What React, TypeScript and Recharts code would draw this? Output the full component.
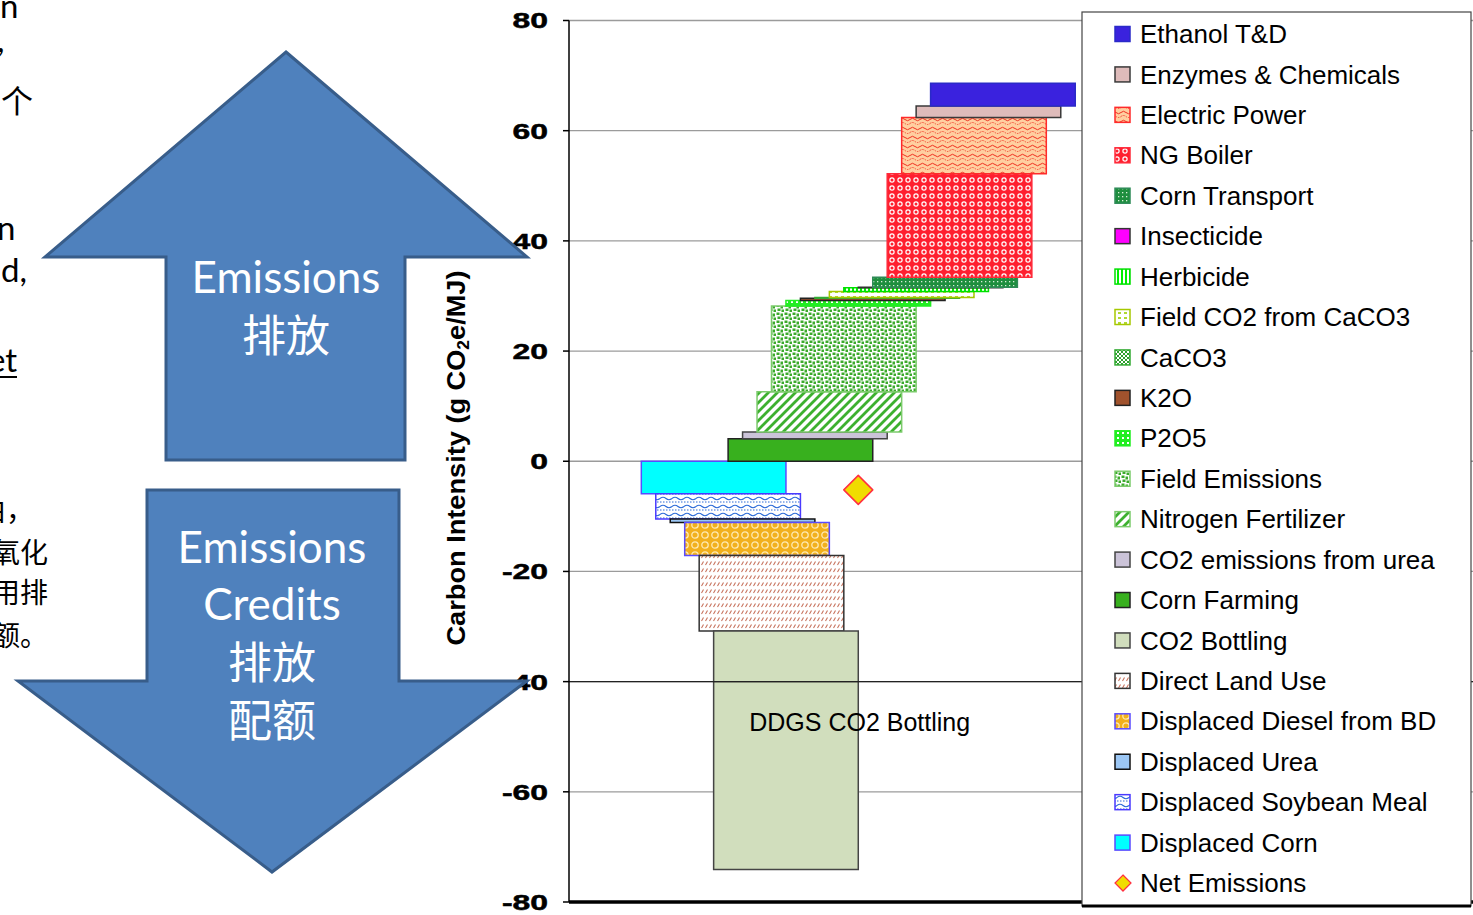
import React from 'react';
import {
  ComposedChart,
  XAxis,
  YAxis,
  CartesianGrid,
  ReferenceArea,
  ReferenceLine,
  ReferenceDot,
  Scatter,
} from 'recharts';

// Life-cycle components, in stacking order: credits first (stacked downward from 0),
// then emission sources (stacked upward from 0).
const components = [
  'Displaced Corn',
  'Displaced Soybean Meal',
  'Displaced Urea',
  'Displaced Diesel from BD',
  'Direct Land Use',
  'CO2 Bottling',
  'Corn Farming',
  'CO2 emissions from urea',
  'Nitrogen Fertilizer',
  'Field Emissions',
  'P2O5',
  'K2O',
  'CaCO3',
  'Field CO2 from CaCO3',
  'Herbicide',
  'Insecticide',
  'Corn Transport',
  'NG Boiler',
  'Electric Power',
  'Enzymes & Chemicals',
  'Ethanol T&D',
];

// Carbon intensity contributed by each component (g CO2e/MJ)
const contributions = [
  -5.9, -4.6, -0.6, -6.0, -13.7, -43.3,
  4.1, 1.2, 7.3, 15.6, 1.0, 0.4, 0.1, 1.1, 0.7, 0.1, 1.8, 18.8, 10.2, 2.1, 4.1,
];

const netEmissions = -5.2;
const netPoint = [{ x: 15, y: netEmissions }];

const annotationText = 'DDGS CO2 Bottling';
const annotationAt = { x: 15.1, y: -47.4 };

const yTicks = [-80, -60, -40, -20, 0, 20, 40, 60, 80];
const yTitle = 'Carbon Intensity (g CO';
const X_DOMAIN: [number, number] = [-5, 57.5];

// the darker rule that runs over the bars
const ruleLevel = -40;

const BAR_SPAN = 10;

type Look = { fill: string; stroke: string };
const looks: Record<string, Look> = {
  'Ethanol T&D': { fill: '#3A22DE', stroke: '#2A2AC8' },
  'Enzymes & Chemicals': { fill: '#DEBBBA', stroke: '#3A3A3A' },
  'Electric Power': { fill: 'url(#pElec)', stroke: '#FF2A2A' },
  'NG Boiler': { fill: 'url(#pNG)', stroke: '#FF2A3A' },
  'Corn Transport': { fill: 'url(#pTransport)', stroke: '#2E8B57' },
  Insecticide: { fill: '#FF00FF', stroke: '#333333' },
  Herbicide: { fill: 'url(#pHerb)', stroke: '#00E000' },
  'Field CO2 from CaCO3': { fill: 'url(#pFieldCaCO3)', stroke: '#A6C800' },
  CaCO3: { fill: 'url(#pCaCO3)', stroke: '#33AA33' },
  K2O: { fill: '#A0522D', stroke: '#222222' },
  P2O5: { fill: 'url(#pP2O5)', stroke: '#22EE22' },
  'Field Emissions': { fill: 'url(#pFieldEm)', stroke: '#7CCB6C' },
  'Nitrogen Fertilizer': { fill: 'url(#pNfert)', stroke: '#7CCB6C' },
  'CO2 emissions from urea': { fill: '#CBC3D8', stroke: '#444444' },
  'Corn Farming': { fill: '#38B01E', stroke: '#222222' },
  'CO2 Bottling': { fill: '#D1DEBD', stroke: '#444444' },
  'Direct Land Use': { fill: 'url(#pDLU)', stroke: '#333333' },
  'Displaced Diesel from BD': { fill: 'url(#pDiesel)', stroke: '#5A4BFF' },
  'Displaced Urea': { fill: '#9CC7F5', stroke: '#111111' },
  'Displaced Soybean Meal': { fill: 'url(#pSoy)', stroke: '#4A3AFF' },
  'Displaced Corn': { fill: '#00FFFF', stroke: '#5A4BFF' },
};

// waterfall extents
let below = 0;
let above = 0;
const bars = components.map((name, i) => {
  const v = contributions[i];
  let y1: number;
  let y2: number;
  if (v < 0) {
    y1 = below;
    below += v;
    y2 = below;
  } else {
    y1 = above;
    above += v;
    y2 = above;
  }
  return { name, x1: i, x2: i + BAR_SPAN, y1, y2 };
});

const legendItems = [...components].reverse();

const FONT = '"Liberation Sans", Arial, sans-serif';

function Patterns() {
  return (
    <svg width={0} height={0} style={{ position: 'absolute' }}>
      <defs>
        <pattern id="pElec" width="10" height="9" patternUnits="userSpaceOnUse">
          <rect width="10" height="9" fill="#FFCFA0" />
          <path d="M0 2.5 Q2.5 0 5 2.5 T10 2.5" stroke="#F03020" fill="none" strokeWidth="1" />
          <path d="M0 6.5 Q2.5 4.5 5 6.5 T10 6.5" stroke="#F03020" fill="none" strokeWidth="0.8" strokeDasharray="1.5 1" />
        </pattern>
        <pattern id="pNG" width="8" height="8" patternUnits="userSpaceOnUse">
          <rect width="8" height="8" fill="#FF1F2F" />
          <circle cx="4" cy="4" r="2.7" fill="#FFFFFF" />
          <circle cx="4" cy="4" r="1.5" fill="#FF1F2F" />
        </pattern>
        <pattern id="pTransport" width="4" height="4" patternUnits="userSpaceOnUse">
          <rect width="4" height="4" fill="#1E8E3E" />
          <rect x="1" y="1" width="1.3" height="1.3" fill="#D8F0D8" />
        </pattern>
        <pattern id="pHerb" width="4" height="4" patternUnits="userSpaceOnUse">
          <rect width="4" height="4" fill="#FFFFFF" />
          <rect width="2" height="4" fill="#00F000" />
        </pattern>
        <pattern id="pFieldCaCO3" width="6" height="5" patternUnits="userSpaceOnUse">
          <rect width="6" height="5" fill="#FFFFFF" />
          <rect x="1" y="1" width="3" height="2" fill="#B0D830" />
        </pattern>
        <pattern id="pCaCO3" width="4" height="4" patternUnits="userSpaceOnUse">
          <rect width="4" height="4" fill="#FFFFFF" />
          <rect width="2" height="2" fill="#2EA02E" />
          <rect x="2" y="2" width="2" height="2" fill="#2EA02E" />
        </pattern>
        <pattern id="pP2O5" width="5" height="5" patternUnits="userSpaceOnUse">
          <rect width="5" height="5" fill="#22EE22" />
          <rect x="1" y="1" width="2" height="2" fill="#FFFFFF" />
        </pattern>
        <pattern id="pFieldEm" width="8" height="8" patternUnits="userSpaceOnUse">
          <rect width="8" height="8" fill="#FFFFFF" />
          <rect x="0.5" y="0.5" width="3" height="2.5" fill="#3BAA2B" />
          <rect x="4.5" y="1.5" width="2.5" height="3" fill="#3BAA2B" />
          <rect x="1.5" y="4.5" width="3" height="2.5" fill="#3BAA2B" />
          <rect x="5.5" y="5.5" width="2.5" height="2.5" fill="#3BAA2B" />
        </pattern>
        <pattern id="pNfert" width="9" height="9" patternUnits="userSpaceOnUse">
          <rect width="9" height="9" fill="#FFFFFF" />
          <path d="M-2.25 2.25 L2.25 -2.25 M0 9 L9 0 M6.75 11.25 L11.25 6.75" stroke="#3DB02F" strokeWidth="2.8" />
        </pattern>
        <pattern id="pDLU" width="8" height="7" patternUnits="userSpaceOnUse">
          <rect width="8" height="7" fill="#FFFFFF" />
          <path d="M1.5 5 L3.5 1.5 M5.5 5 L7.5 1.5" stroke="#C8735E" strokeWidth="1.1" />
        </pattern>
        <pattern id="pDiesel" width="10" height="10" patternUnits="userSpaceOnUse">
          <rect width="10" height="10" fill="#F2B01C" />
          <circle cx="5" cy="5" r="3.2" fill="none" stroke="#FFE9B0" strokeWidth="1.3" />
        </pattern>
        <pattern id="pSoy" width="12" height="8" patternUnits="userSpaceOnUse">
          <rect width="12" height="8" fill="#FFFFFF" />
          <path d="M0 2.5 Q3 0 6 2.5 T12 2.5" stroke="#2A6AD8" fill="none" strokeWidth="1.2" />
          <path d="M0 6 L12 6" stroke="#2A6AD8" strokeWidth="1" strokeDasharray="1.5 1.5" />
        </pattern>
      </defs>
    </svg>
  );
}

function renderYTick(props: any) {
  const { x, y, payload } = props;
  return (
    <g transform={`translate(${x},${y})`}>
      <text
        transform="scale(1.45,1)"
        textAnchor="end"
        dy="0.36em"
        fontFamily={FONT}
        fontWeight="bold"
        fontSize={22}
        fill="#000"
        stroke="#000"
        strokeWidth={0.5}
      >
        {payload.value}
      </text>
    </g>
  );
}

function renderDiamond(props: any) {
  const { cx, cy } = props;
  const h = 14.5;
  return (
    <polygon
      points={`${cx},${cy - h} ${cx + h},${cy} ${cx},${cy + h} ${cx - h},${cy}`}
      fill="#F0DC00"
      stroke="#FF3040"
      strokeWidth={1.5}
      strokeLinejoin="round"
    />
  );
}

// For a bar that spans the -40 level, the dark rule is drawn over it; its height
// is interpolated between the bar's scaled top and bottom edges (the label viewBox).
function makeRuleLabel(v1: number, v2: number) {
  const hi = Math.max(v1, v2);
  const lo = Math.min(v1, v2);
  if (!(hi > ruleLevel && lo < ruleLevel)) return undefined;
  return function RuleAcrossBar(props: any) {
    const vb = props.viewBox || {};
    const { x, y, width, height } = vb;
    if (![x, y, width, height].every((n) => Number.isFinite(n))) return null;
    const top = Math.min(y, y + height);
    const h = Math.abs(height);
    const ruleY = top + ((hi - ruleLevel) / (hi - lo)) * h;
    return <line x1={x} x2={x + width} y1={ruleY} y2={ruleY} stroke="#222" strokeWidth={1.3} />;
  };
}

function Arrows() {
  const white = '#FFFFFF';
  const latin = 'Lato, "Open Sans", sans-serif';
  const cjk = '"Noto Sans CJK SC", sans-serif';
  return (
    <svg
      width={1473}
      height={915}
      style={{ position: 'absolute', left: 0, top: 0, pointerEvents: 'none' }}
    >
      <polygon
        points="286,52 527,257 405,257 405,460 166,460 166,257 45,257"
        fill="#4F81BD"
        stroke="#385D8A"
        strokeWidth={3}
      />
      <text x={286} y={293} textAnchor="middle" fill={white} fontFamily={latin} fontSize={44}>
        Emissions
      </text>
      <text x={286} y={352} textAnchor="middle" fill={white} fontFamily={cjk} fontSize={44}>
        排放
      </text>

      <polygon
        points="147,490 399,490 399,681 527,681 272,872 18,681 147,681"
        fill="#4F81BD"
        stroke="#385D8A"
        strokeWidth={3}
      />
      <text x={272} y={563} textAnchor="middle" fill={white} fontFamily={latin} fontSize={44}>
        Emissions
      </text>
      <text x={272} y={620} textAnchor="middle" fill={white} fontFamily={latin} fontSize={44}>
        Credits
      </text>
      <text x={272} y={679} textAnchor="middle" fill={white} fontFamily={cjk} fontSize={44}>
        排放
      </text>
      <text x={272} y={737} textAnchor="middle" fill={white} fontFamily={cjk} fontSize={44}>
        配额
      </text>

      {/* slide body text running off the left edge */}
      <g fill="#000" fontFamily={latin} fontSize={33}>
        <text x={0} y={18}>n</text>
        <text x={-3} y={52}>,</text>
        <text x={-3} y={240}>n</text>
        <text x={1} y={282}>d,</text>
        <text x={-12} y={372}>et</text>
      </g>
      <line x1={0} y1={377} x2={17} y2={377} stroke="#000" strokeWidth={2} />
      <g fill="#000" fontFamily={cjk}>
        <text x={1} y={113} fontSize={32}>个</text>
        <text x={-22} y={521} fontSize={28}>由，</text>
        <text x={-8} y={563} fontSize={28}>氧化</text>
        <text x={-8} y={603} fontSize={28}>用排</text>
        <text x={-8} y={646} fontSize={28}>额。</text>
      </g>

      {/* value axis title */}
      <text
        transform="translate(465,458) rotate(-90)"
        textAnchor="middle"
        fontFamily={FONT}
        fontWeight="bold"
        fontSize={25}
        fill="#000"
        textLength={375}
        lengthAdjust="spacingAndGlyphs"
      >
        {yTitle}
        <tspan fontSize={16} dy={4}>2</tspan>
        <tspan dy={-4}>e/MJ)</tspan>
      </text>
    </svg>
  );
}

function LegendBox() {
  const rowTop = 23;
  const rowGap = 40.43;
  return (
    <svg
      width={391}
      height={898}
      style={{ position: 'absolute', left: 1081, top: 11 }}
    >
      <rect x={1} y={1} width={389} height={894} fill="#FFFFFF" stroke="#444" strokeWidth={1.2} />
      <line x1={1} y1={895} x2={390} y2={895} stroke="#000" strokeWidth={3} />
      {legendItems.map((name, i) => {
        const cy = rowTop + i * rowGap;
        const look = looks[name];
        return (
          <g key={name}>
            <rect
              x={34}
              y={cy - 7.5}
              width={15}
              height={15}
              fill={look.fill}
              stroke={look.stroke}
              strokeWidth={1.5}
            />
            <text x={59} y={cy} dy="0.35em" fontFamily={FONT} fontSize={26} fill="#000">
              {name}
            </text>
          </g>
        );
      })}
      {(() => {
        const cy = rowTop + legendItems.length * rowGap;
        const h = 8;
        return (
          <g>
            <polygon
              points={`${42},${cy - h} ${42 + h},${cy} ${42},${cy + h} ${42 - h},${cy}`}
              fill="#F0DC00"
              stroke="#FF3040"
              strokeWidth={1.2}
            />
            <text x={59} y={cy} dy="0.35em" fontFamily={FONT} fontSize={26} fill="#000">
              Net Emissions
            </text>
          </g>
        );
      })()}
    </svg>
  );
}

export default function App() {
  return (
    <div
      style={{
        position: 'absolute',
        left: 0,
        top: 0,
        width: 1473,
        height: 915,
        background: '#FFFFFF',
        overflow: 'hidden',
        fontFamily: FONT,
      }}
    >
      <Patterns />
      <div style={{ position: 'absolute', left: 0, top: 0 }}>
        <ComposedChart
          width={1473}
          height={915}
          margin={{ top: 20.5, right: 0, bottom: 13, left: 509 }}
        >
          <CartesianGrid vertical={false} stroke="#9B9B9B" strokeWidth={1.3} />
          <XAxis type="number" dataKey="x" domain={X_DOMAIN} hide allowDataOverflow />
          <YAxis
            type="number"
            dataKey="y"
            domain={[-80, 80]}
            ticks={yTicks}
            interval={0}
            width={60}
            axisLine={{ stroke: '#000', strokeWidth: 1.5 }}
            tickLine={{ stroke: '#000', strokeWidth: 1.5 }}
            tickSize={6}
            tickMargin={15}
            tick={renderYTick}
            allowDataOverflow
          />
          <ReferenceLine y={ruleLevel} stroke="#222" strokeWidth={1.3} />
          {bars.map((b) => (
            <ReferenceArea
              key={b.name}
              x1={b.x1}
              x2={b.x2}
              y1={b.y1}
              y2={b.y2}
              fill={looks[b.name].fill}
              fillOpacity={1}
              stroke={looks[b.name].stroke}
              strokeWidth={1.5}
              ifOverflow="visible"
              label={makeRuleLabel(b.y1, b.y2)}
            />
          ))}
          <ReferenceLine y={-80} stroke="#000" strokeWidth={3.5} />
          <ReferenceDot
            x={annotationAt.x}
            y={annotationAt.y}
            r={0}
            fill="none"
            stroke="none"
            ifOverflow="visible"
            label={{
              value: annotationText,
              position: 'center',
              fontSize: 25,
              fill: '#000',
              fontFamily: FONT,
            }}
          />
          <Scatter
            data={netPoint}
            dataKey="y"
            shape={renderDiamond}
            isAnimationActive={false}
          />
        </ComposedChart>
      </div>
      <Arrows />
      <LegendBox />
    </div>
  );
}
